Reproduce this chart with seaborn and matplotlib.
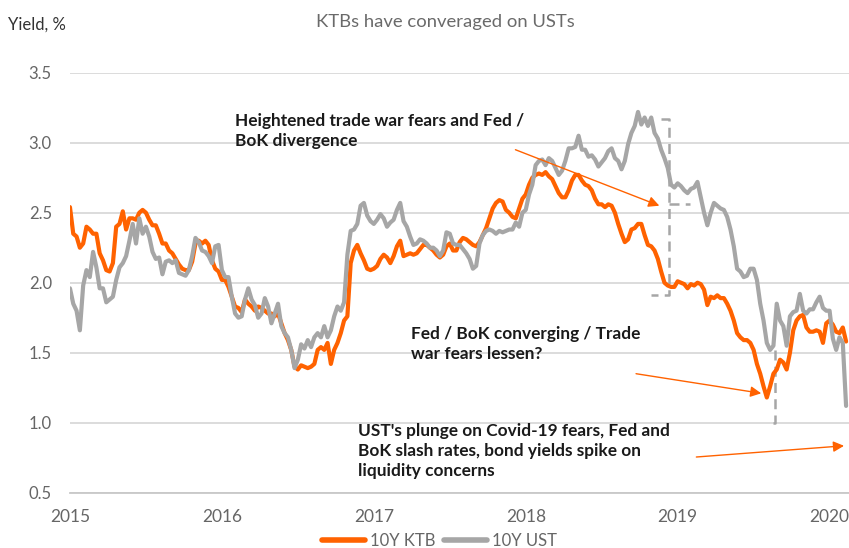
import numpy as np
import pandas as pd
import matplotlib
matplotlib.use("Agg")
import matplotlib.pyplot as plt
import matplotlib.dates as mdates
from matplotlib.lines import Line2D
import seaborn as sns

# 10Y yields, ~46 readings per year
ktb_2015 = [2.54, 2.35, 2.33, 2.25, 2.28, 2.40, 2.38, 2.35, 2.35, 2.21,
            2.16, 2.09, 2.08, 2.14, 2.40, 2.42, 2.51, 2.38, 2.46, 2.46,
            2.45, 2.50, 2.52, 2.50, 2.45, 2.41, 2.41, 2.35, 2.28, 2.28,
            2.23, 2.21, 2.17, 2.13, 2.10, 2.09, 2.09, 2.15, 2.28, 2.30,
            2.28, 2.30, 2.27, 2.16, 2.10, 2.08]
ktb_2016 = [2.02, 2.02, 1.97, 1.90, 1.83, 1.82, 1.79, 1.88, 1.85, 1.83,
            1.80, 1.83, 1.82, 1.80, 1.78, 1.78, 1.76, 1.78, 1.71, 1.64,
            1.59, 1.52, 1.40, 1.38, 1.41, 1.40, 1.39, 1.40, 1.42, 1.52,
            1.54, 1.52, 1.57, 1.42, 1.52, 1.57, 1.64, 1.73, 1.76, 2.14,
            2.23, 2.27, 2.21, 2.16, 2.10, 2.09]
ktb_2017 = [2.10, 2.12, 2.17, 2.20, 2.18, 2.14, 2.19, 2.26, 2.30, 2.19,
            2.20, 2.21, 2.20, 2.21, 2.24, 2.27, 2.27, 2.25, 2.23, 2.20,
            2.18, 2.20, 2.26, 2.28, 2.23, 2.23, 2.29, 2.32, 2.31, 2.29,
            2.27, 2.26, 2.29, 2.34, 2.39, 2.46, 2.53, 2.57, 2.59, 2.58,
            2.52, 2.50, 2.47, 2.46, 2.53, 2.60]
ktb_2018 = [2.63, 2.70, 2.75, 2.77, 2.78, 2.77, 2.79, 2.76, 2.74, 2.69,
            2.64, 2.61, 2.61, 2.66, 2.73, 2.77, 2.77, 2.73, 2.70, 2.69,
            2.66, 2.60, 2.56, 2.56, 2.54, 2.56, 2.55, 2.50, 2.42, 2.35,
            2.29, 2.31, 2.38, 2.39, 2.42, 2.42, 2.34, 2.27, 2.26, 2.23,
            2.17, 2.08, 2.00, 1.98, 1.97, 1.97]
ktb_2019 = [2.01, 2.00, 1.99, 1.96, 1.99, 1.98, 2.00, 1.99, 1.95, 1.84,
            1.90, 1.89, 1.91, 1.89, 1.89, 1.85, 1.80, 1.73, 1.64, 1.61,
            1.59, 1.59, 1.57, 1.52, 1.42, 1.35, 1.26, 1.18, 1.26, 1.35,
            1.38, 1.45, 1.43, 1.38, 1.50, 1.66, 1.73, 1.76, 1.77, 1.68,
            1.65, 1.65, 1.66, 1.65, 1.57, 1.71]
ktb_2020 = [1.73, 1.70, 1.65, 1.64, 1.68, 1.58]

ust_2015 = [1.96, 1.85, 1.80, 1.66, 1.98, 2.09, 2.04, 2.22, 2.11, 1.96,
            1.96, 1.86, 1.88, 1.90, 2.02, 2.11, 2.14, 2.19, 2.30, 2.42,
            2.28, 2.46, 2.35, 2.40, 2.33, 2.22, 2.17, 2.18, 2.06, 2.15,
            2.16, 2.14, 2.16, 2.07, 2.06, 2.05, 2.09, 2.19, 2.32, 2.29,
            2.23, 2.22, 2.19, 2.14, 2.26, 2.27]
ust_2016 = [2.09, 2.04, 2.04, 1.90, 1.78, 1.75, 1.76, 1.88, 1.96, 1.88,
            1.84, 1.75, 1.78, 1.89, 1.83, 1.71, 1.78, 1.85, 1.69, 1.64,
            1.61, 1.52, 1.39, 1.45, 1.56, 1.53, 1.59, 1.54, 1.61, 1.64,
            1.61, 1.69, 1.61, 1.66, 1.76, 1.83, 1.80, 1.86, 2.20, 2.37,
            2.38, 2.42, 2.55, 2.57, 2.48, 2.44]
ust_2017 = [2.42, 2.45, 2.49, 2.46, 2.40, 2.43, 2.45, 2.52, 2.57, 2.44,
            2.40, 2.33, 2.27, 2.28, 2.31, 2.30, 2.28, 2.25, 2.25, 2.23,
            2.19, 2.23, 2.36, 2.35, 2.28, 2.27, 2.27, 2.24, 2.21, 2.17,
            2.10, 2.12, 2.28, 2.34, 2.37, 2.38, 2.37, 2.35, 2.37, 2.36,
            2.37, 2.38, 2.38, 2.43, 2.40, 2.50]
ust_2018 = [2.52, 2.63, 2.70, 2.84, 2.87, 2.88, 2.84, 2.89, 2.87, 2.82,
            2.77, 2.80, 2.87, 2.96, 2.96, 2.97, 3.05, 2.95, 2.95, 2.90,
            2.91, 2.88, 2.83, 2.86, 2.89, 2.94, 2.96, 2.89, 2.87, 2.81,
            2.87, 2.99, 3.07, 3.12, 3.22, 3.13, 3.18, 3.12, 3.18, 3.07,
            3.03, 2.95, 2.89, 2.82, 2.70, 2.68]
ust_2019 = [2.71, 2.69, 2.66, 2.64, 2.67, 2.68, 2.72, 2.61, 2.50, 2.41,
            2.50, 2.57, 2.55, 2.53, 2.52, 2.47, 2.38, 2.26, 2.10, 2.08,
            2.04, 2.05, 2.10, 2.10, 2.02, 1.85, 1.73, 1.57, 1.52, 1.55,
            1.85, 1.73, 1.69, 1.55, 1.76, 1.79, 1.80, 1.92, 1.80, 1.78,
            1.81, 1.81, 1.86, 1.90, 1.82, 1.80]
ust_2020 = [1.80, 1.60, 1.52, 1.61, 1.57, 1.12]

ktb = ktb_2015 + ktb_2016 + ktb_2017 + ktb_2018 + ktb_2019 + ktb_2020
ust = ust_2015 + ust_2016 + ust_2017 + ust_2018 + ust_2019 + ust_2020
dates = pd.date_range("2015-01-01", "2020-02-10", periods=len(ktb))
series_names = ["10Y KTB", "10Y UST"]
year_ticks = ["2015", "2016", "2017", "2018", "2019", "2020"]
y_ticks = [0.5, 1.0, 1.5, 2.0, 2.5, 3.0, 3.5]

# annotations: (text, x date, y top)
notes = [
    ("Heightened trade war fears and Fed /\nBoK divergence", "2016-02-03", 3.21),
    ("Fed / BoK converging / Trade\nwar fears lessen?", "2017-03-30", 1.69),
    ("UST's plunge on Covid-19 fears, Fed and\nBoK slash rates, bond yields spike on\nliquidity concerns",
     "2016-11-23", 1.00),
]
arrows = [  # (start date, start y, end date, end y)
    ("2017-12-07", 2.95, "2018-11-18", 2.55),
    ("2018-09-23", 1.35, "2019-07-21", 1.21),
    ("2019-02-15", 0.755, "2020-02-05", 0.835),
]
bracket_a = (["2018-11-23", "2018-12-12", "2018-12-12", "2018-10-30"], [3.17, 3.17, 1.91, 1.91])
bracket_b = (["2018-12-12", "2019-01-30"], [2.56, 2.56])
bracket_c = (["2019-08-22", "2019-08-22", "2019-08-06"], [1.52, 1.0, 1.0])

orange = "#FF6200"
grey = "#A6A6A6"

df = pd.DataFrame({
    "date": np.concatenate([dates, dates]),
    "yield": ktb + ust,
    "series": [series_names[0]] * len(ktb) + [series_names[1]] * len(ust),
})

sns.set_theme(style="white")
plt.rcParams["font.family"] = ["Lato", "DejaVu Sans"]

fig = plt.figure(figsize=(8.49, 5.48), dpi=100)
ax = fig.add_axes([0.0824, 0.1009, 0.9176, 0.7664])

sns.lineplot(data=df, x="date", y="yield", hue="series",
             palette={series_names[0]: orange, series_names[1]: grey},
             linewidth=3.0, legend=False, ax=ax)
for ln in ax.lines:
    ln.set_solid_joinstyle("round")

ax.set_xlim(pd.Timestamp("2015-01-01"), pd.Timestamp("2020-02-17"))
ax.set_ylim(0.5, 3.5)
ax.set_xticks([pd.Timestamp(y + "-01-01") for y in year_ticks])
ax.set_xticklabels(year_ticks)
ax.set_yticks(y_ticks)
ax.set_yticklabels([f"{v:.1f}" for v in y_ticks])
ax.set_xlabel("")
ax.set_ylabel("")

ax.yaxis.grid(True, color="#d9d9d9", lw=1.3)
ax.xaxis.grid(False)
for s in ["left", "top", "right"]:
    ax.spines[s].set_visible(False)
ax.spines["bottom"].set_color("#c8c8c8")
ax.spines["bottom"].set_linewidth(1.3)
ax.tick_params(axis="x", direction="out", length=5, width=1.2, color="#c8c8c8",
               labelsize=12.5, labelcolor="#666666", pad=7)
ax.tick_params(axis="y", length=0, labelsize=12, labelcolor="#666666", pad=13)

# dashed brackets
for bx, by in [bracket_a, bracket_b, bracket_c]:
    ax.plot(pd.to_datetime(bx), by, color=grey, lw=1.8, ls=(0, (4, 2.5)), zorder=1)

# arrows
for x0, y0, x1, y1 in arrows:
    ax.annotate("", xy=(mdates.date2num(pd.Timestamp(x1)), y1),
                xytext=(mdates.date2num(pd.Timestamp(x0)), y0),
                arrowprops=dict(arrowstyle="-|>", color=orange, lw=1.0,
                                mutation_scale=16, shrinkA=0, shrinkB=0))

for txt, xd, yt in notes:
    ax.text(mdates.date2num(pd.Timestamp(xd)), yt, txt, ha="left", va="top",
            fontsize=12.4, fontweight="bold", color="#1a1a1a", linespacing=1.3)

fig.text(0.5247, 1 - 22 / 548, "KTBs have converaged on USTs", ha="center", va="center",
         fontsize=13.3, color="#6a6a6a")
fig.text(8 / 849, 1 - 25 / 548, "Yield, %", ha="left", va="center",
         fontsize=12, color="#333333")

handles = [Line2D([0], [0], color=orange, lw=4, solid_capstyle="round"),
           Line2D([0], [0], color=grey, lw=4, solid_capstyle="round")]
fig.legend(handles, series_names, loc="center", bbox_to_anchor=(0.5177, 1 - 541 / 548),
           ncol=2, frameon=False, fontsize=12, labelcolor="#666666",
           handlelength=2.6, handletextpad=0.3, columnspacing=0.5)

fig.savefig("out.png", dpi=100)
